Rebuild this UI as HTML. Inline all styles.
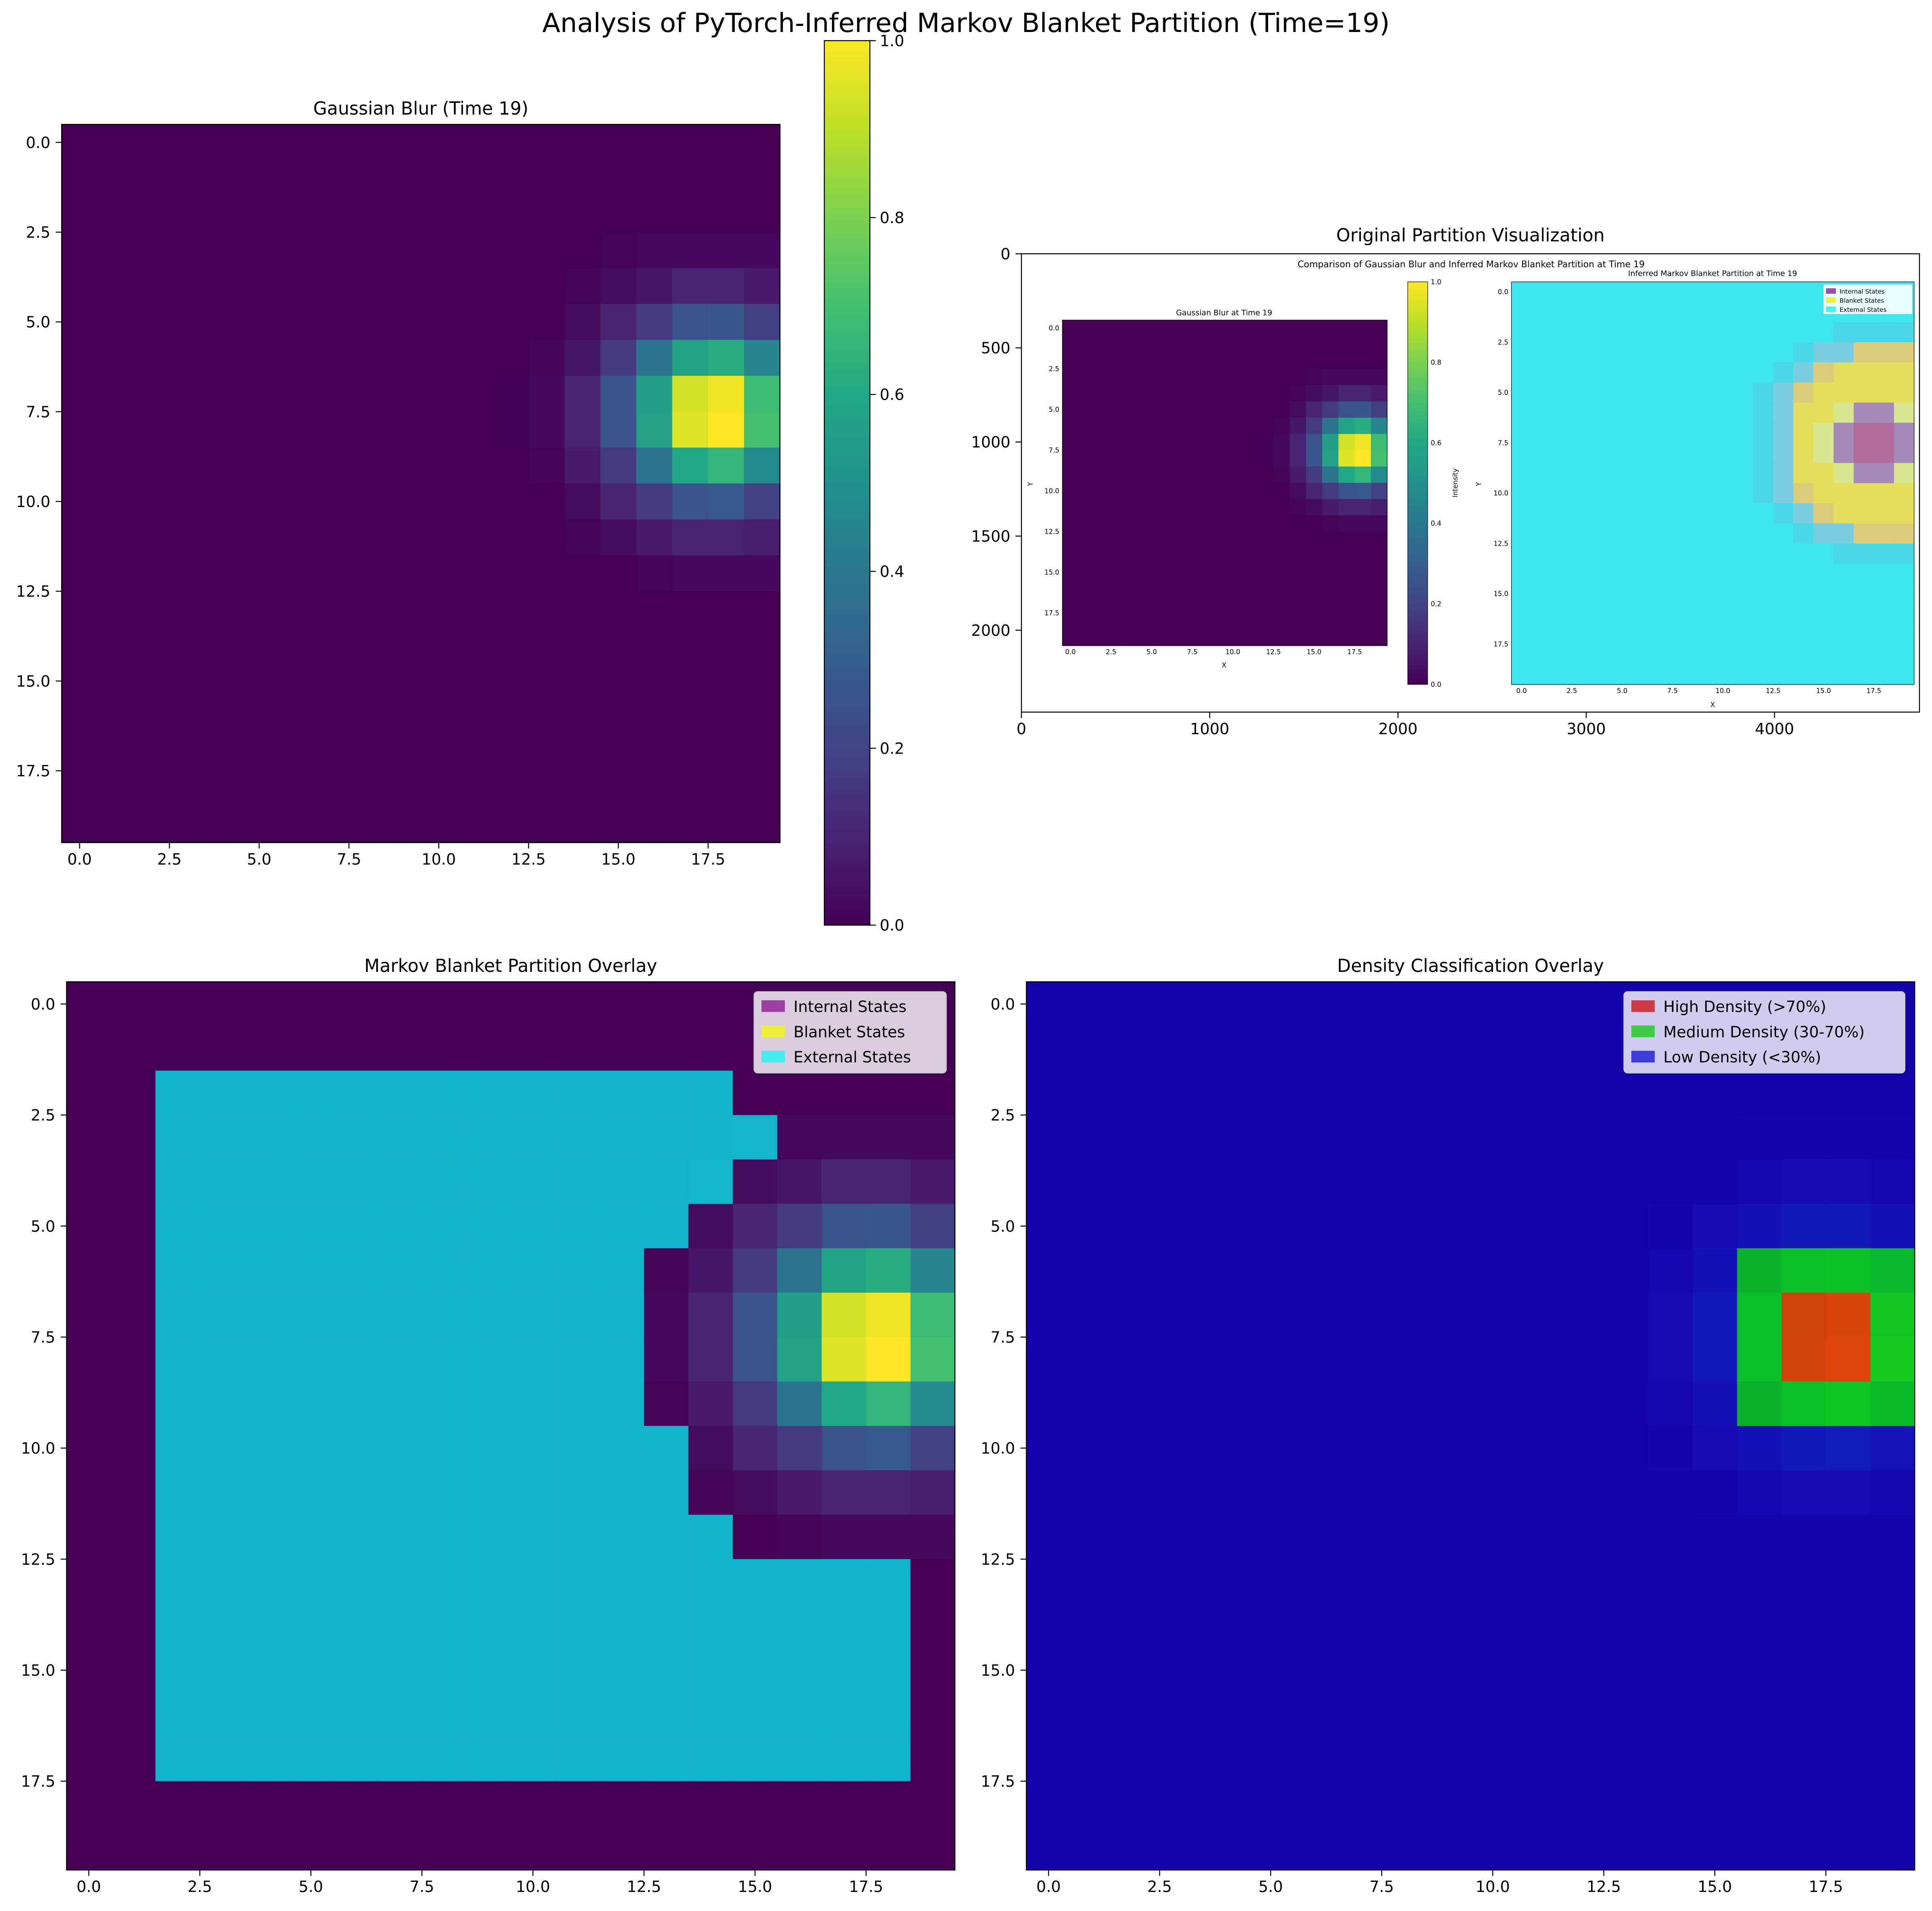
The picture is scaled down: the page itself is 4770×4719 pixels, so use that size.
<!DOCTYPE html>
<html><head><meta charset="utf-8"><style>
html,body{margin:0;padding:0;background:#fff;}
svg{display:block;font-family:"DejaVu Sans","Liberation Sans",sans-serif;}
</style></head><body>
<svg id="fig" xmlns="http://www.w3.org/2000/svg" width="4770" height="4719" viewBox="0 0 1568 1551.3">
<rect x="0" y="0" width="1568" height="1551.3" fill="#fff"/>
<text x="784" y="26" font-size="21.5" text-anchor="middle">Analysis of PyTorch-Inferred Markov Blanket Partition (Time=19)</text>
<g id="g1"></g>
<g id="g2"></g>
<g id="g3"></g>
<g id="g4"></g>
</svg>
<script>
// ---- data ----
const N = 20;
const blurRow3  = [0,0,0,0,0,0,0,0,0,0,0,0,0,0,0,0.01,0.02,0.02,0.02,0.02];
const blurRow4  = [0,0,0,0,0,0,0,0,0,0,0,0,0,0,0.01,0.03,0.06,0.10,0.10,0.07];
const blurRow5  = [0,0,0,0,0,0,0,0,0,0,0,0,0,0,0.03,0.10,0.17,0.26,0.27,0.18];
const blurRow6  = [0,0,0,0,0,0,0,0,0,0,0,0,0,0.01,0.06,0.17,0.38,0.58,0.62,0.45];
const blurRow7  = [0,0,0,0,0,0,0,0,0,0,0,0,0.005,0.02,0.10,0.25,0.56,0.93,0.98,0.68];
const blurRow8  = [0,0,0,0,0,0,0,0,0,0,0,0,0.005,0.02,0.10,0.25,0.57,0.95,1.00,0.70];
const blurRow9  = [0,0,0,0,0,0,0,0,0,0,0,0,0,0.01,0.07,0.17,0.38,0.60,0.65,0.47];
const blurRow10 = [0,0,0,0,0,0,0,0,0,0,0,0,0,0,0.03,0.10,0.17,0.26,0.28,0.19];
const blurRow11 = [0,0,0,0,0,0,0,0,0,0,0,0,0,0,0.01,0.03,0.07,0.10,0.10,0.08];
const blurRow12 = [0,0,0,0,0,0,0,0,0,0,0,0,0,0,0,0,0.01,0.02,0.02,0.02];
const zeroRow   = [0,0,0,0,0,0,0,0,0,0,0,0,0,0,0,0,0,0,0,0];
const blur = [zeroRow,zeroRow,zeroRow,blurRow3,blurRow4,blurRow5,blurRow6,blurRow7,blurRow8,blurRow9,blurRow10,blurRow11,blurRow12,zeroRow,zeroRow,zeroRow,zeroRow,zeroRow,zeroRow,zeroRow];
const extStart = [-1,-1,2,2,2,2,2,2,2,2,2,2,2,2,2,2,2,2,-1,-1];
const extEnd   = [-1,-1,14,15,14,13,12,12,12,12,13,13,14,18,18,18,18,18,-1,-1];
const highThresh = 0.7, medThresh = 0.3;
const insetRows = [
 "eeeeeeeeeeeeeeeeeeee","eeeeeeeeeeeeeeeeeeee","eeeeeeeeeeeeeeeeffff",
 "eeeeeeeeeeeeeefllttt","eeeeeeeeeeeeefltyyyy","eeeeeeeeeeeefltyyyyy",
 "eeeeeeeeeeeeflyypuup","eeeeeeeeeeeeflypukku","eeeeeeeeeeeeflypukku",
 "eeeeeeeeeeeeflyypuup","eeeeeeeeeeeefltyyyyy","eeeeeeeeeeeeefltyyyy",
 "eeeeeeeeeeeeeefllttt","eeeeeeeeeeeeeeeeffff","eeeeeeeeeeeeeeeeeeee",
 "eeeeeeeeeeeeeeeeeeee","eeeeeeeeeeeeeeeeeeee","eeeeeeeeeeeeeeeeeeee",
 "eeeeeeeeeeeeeeeeeeee","eeeeeeeeeeeeeeeeeeee"];
const heatTicks = [0,2.5,5,7.5,10,12.5,15,17.5];
const heatTickLabels = ["0.0","2.5","5.0","7.5","10.0","12.5","15.0","17.5"];
const cbTicks = [0,0.2,0.4,0.6,0.8,1.0];
const cbTickLabels = ["0.0","0.2","0.4","0.6","0.8","1.0"];
const p2xTicks = [0,1000,2000,3000,4000];
const p2yTicks = [0,500,1000,1500,2000];
const legend3Labels = ["Internal States","Blanket States","External States"];
const legend4Labels = ["High Density (>70%)","Medium Density (30-70%)","Low Density (<30%)"];

// ---- helpers ----
const NS="http://www.w3.org/2000/svg";
function mk(tag, attrs, parent){const e=document.createElementNS(NS,tag);for(const k in attrs)e.setAttribute(k,attrs[k]);parent.appendChild(e);return e;}
const VIR=[[68,1,84],[72,36,117],[65,68,135],[53,95,141],[42,120,142],[33,145,140],[34,168,132],[68,191,112],[122,209,81],[189,223,38],[253,231,37]];
function vir(v){v=Math.max(0,Math.min(1,v));const f=v*10,i=Math.min(9,Math.floor(f)),t=f-i;const a=VIR[i],b=VIR[i+1];return [0,1,2].map(k=>a[k]+(b[k]-a[k])*t);}
function rgb(c){return "rgb("+c.map(x=>Math.round(x)).join(",")+")";}
function mix(base,over,a){return base.map((x,k)=>x*(1-a)+over[k]*a);}

function heatAxes(g,x0,y0,cell,fs,tick){
  const w=cell*N;
  mk("rect",{x:x0,y:y0,width:w,height:w,fill:"none",stroke:"#000","stroke-width":0.8},g);
  heatTicks.forEach((v,i)=>{
    const px=x0+(v+0.5)*cell, py=y0+(v+0.5)*cell;
    mk("line",{x1:px,y1:y0+w,x2:px,y2:y0+w+tick,stroke:"#000","stroke-width":0.8},g);
    const tx=mk("text",{x:px,y:y0+w+tick+fs*1.05,"font-size":fs,"text-anchor":"middle"},g);tx.textContent=heatTickLabels[i];
    
    
    mk("line",{x1:x0,y1:py,x2:x0-tick,y2:py,stroke:"#000","stroke-width":0.8},g);
    const ty=mk("text",{x:x0-tick-fs*0.35,y:py+fs*0.36,"font-size":fs,"text-anchor":"end"},g);ty.textContent=heatTickLabels[i];
    
    
  });
}
function cellsFrom(g,x0,y0,cw,ch,colorFn){
  for(let r=0;r<N;r++)for(let c=0;c<N;c++){
    const e=mk("rect",{x:x0+c*cw,y:y0+r*ch,width:cw+0.3,height:ch+0.3,fill:colorFn(r,c)},g);
    
    
  }
}
function title(g,x,y,s,fs){const t=mk("text",{x:x,y:y,"font-size":fs,"text-anchor":"middle"},g);t.textContent=s;return t;}

// ---- panel 1 ----
(function(){
  const g=document.getElementById("g1");
  const x0=50,y0=101,cell=29.15;
  title(g,x0+cell*10,93,"Gaussian Blur (Time 19)",14.5);
  cellsFrom(g,x0,y0,cell,cell,(r,c)=>rgb(vir(blur[r][c])));
  heatAxes(g,x0,y0,cell,12.5,4.8);
  const cx=669,cw=37,cy0=33,cy1=751;
  const defs=mk("defs",{},g);
  const lg=mk("linearGradient",{id:"vg",x1:0,y1:1,x2:0,y2:0},defs);
  for(let i=0;i<=10;i++)mk("stop",{offset:(i*10)+"%","stop-color":rgb(VIR[i])},lg);
  const cb=mk("rect",{x:cx,y:cy0,width:cw,height:cy1-cy0,fill:"url(#vg)",stroke:"#000","stroke-width":0.8},g);
  
  
  cbTicks.forEach((v,i)=>{const py=cy1-v*(cy1-cy0);
    mk("line",{x1:cx+cw,y1:py,x2:cx+cw+4.8,y2:py,stroke:"#000","stroke-width":0.8},g);
    const t=mk("text",{x:cx+cw+8,y:py+4.5,"font-size":12.5},g);t.textContent=cbTickLabels[i];
    
    });
})();

// ---- panel 2 ----
(function(){
  const g=document.getElementById("g2");
  const ax0=829,ay0=206,k=0.1528,W=4770,H=2435;
  const aw=W*k,ah=H*k;
  title(g,ax0+aw/2,196,"Original Partition Visualization",14.5);
  mk("rect",{x:ax0,y:ay0,width:aw,height:ah,fill:"#fff"},g);
  const st=mk("text",{x:1194,y:217,"font-size":7.2,"text-anchor":"middle"},g);st.textContent="Comparison of Gaussian Blur and Inferred Markov Blanket Partition at Time 19";
  
  const gx0=862.2,gy0=259.8,gcw=263.6/N,gch=264.3/N,ifs=5.4;
  const t1=mk("text",{x:993.5,y:256,"font-size":6.2,"text-anchor":"middle"},g);t1.textContent="Gaussian Blur at Time 19";
  
  cellsFrom(g,gx0,gy0,gcw,gch,(r,c)=>rgb(vir(blur[r][c])));
  mk("rect",{x:gx0,y:gy0,width:gcw*N,height:gch*N,fill:"none",stroke:"#000","stroke-width":0.4},g);
  heatTicks.forEach((v,i)=>{
    const px=gx0+(v+0.5)*gcw,py=gy0+(v+0.5)*gch;
    const a=mk("text",{x:px,y:gy0+gch*N+7,"font-size":ifs,"text-anchor":"middle"},g);a.textContent=heatTickLabels[i];
    
    const b=mk("text",{x:gx0-2.5,y:py+1.9,"font-size":ifs,"text-anchor":"end"},g);b.textContent=heatTickLabels[i];
    
  });
  const xl=mk("text",{x:993.5,y:542,"font-size":ifs,"text-anchor":"middle"},g);xl.textContent="X";
  
  const yl=mk("text",{x:838,y:393,"font-size":ifs,"text-anchor":"middle",transform:"rotate(-90 838 393)"},g);yl.textContent="Y";
  
  const cx=1142.5,cw=16.2,cy0=228.8,cy1=555.6;
  const icb=mk("rect",{x:cx,y:cy0,width:cw,height:cy1-cy0,fill:"url(#vg)",stroke:"#000","stroke-width":0.4},g);
  
  cbTicks.forEach((v,i)=>{const py=cy1-v*(cy1-cy0);
    const t=mk("text",{x:cx+cw+2.5,y:py+1.9,"font-size":ifs},g);t.textContent=cbTickLabels[i];
    });
  const il=mk("text",{x:1183,y:392,"font-size":ifs,"text-anchor":"middle",transform:"rotate(-90 1183 392)"},g);il.textContent="Intensity";
  
  const px0=1226.7,py0=228.8,pc=326.8/N;
  const pcol={e:"#3ee6ee",f:"#4ad8e6",l:"#7ccde0",t:"#dccb7a",y:"#e4de5c",p:"#d8e690",u:"#a38ab8",k:"#b06c9a"};
  const t2=mk("text",{x:1390,y:224,"font-size":6.2,"text-anchor":"middle"},g);t2.textContent="Inferred Markov Blanket Partition at Time 19";
  
  cellsFrom(g,px0,py0,pc,pc,(r,c)=>pcol[insetRows[r][c]]);
  mk("rect",{x:px0,y:py0,width:pc*N,height:pc*N,fill:"none",stroke:"#000","stroke-width":0.4},g);
  heatTicks.forEach((v,i)=>{
    const px=px0+(v+0.5)*pc,py=py0+(v+0.5)*pc;
    const a=mk("text",{x:px,y:py0+pc*N+7,"font-size":ifs,"text-anchor":"middle"},g);a.textContent=heatTickLabels[i];
    
    const b=mk("text",{x:px0-2.5,y:py+1.9,"font-size":ifs,"text-anchor":"end"},g);b.textContent=heatTickLabels[i];
    
  });
  const xl2=mk("text",{x:1390,y:574,"font-size":ifs,"text-anchor":"middle"},g);xl2.textContent="X";
  
  const yl2=mk("text",{x:1202,y:393,"font-size":ifs,"text-anchor":"middle",transform:"rotate(-90 1202 393)"},g);yl2.textContent="Y";
  
  const lx=1480,ly=231;
  mk("rect",{x:lx,y:ly,width:72,height:24,fill:"#eaffff",stroke:"#ccc","stroke-width":0.3,rx:1},g);
  const lc=["#9a4fa8","#eef040","#40f4f4"];
  legend3Labels.forEach((s,i)=>{mk("rect",{x:lx+2,y:ly+3+i*7.4,width:8,height:4.5,fill:lc[i]},g);
    const t=mk("text",{x:lx+13,y:ly+7.3+i*7.4,"font-size":5},g);t.textContent=s;
    });
  mk("rect",{x:ax0,y:ay0,width:aw,height:ah,fill:"none",stroke:"#000","stroke-width":0.8},g);
  p2xTicks.forEach(v=>{const px=ax0+v*k;
    mk("line",{x1:px,y1:ay0+ah,x2:px,y2:ay0+ah+4.8,stroke:"#000","stroke-width":0.8},g);
    const t=mk("text",{x:px,y:ay0+ah+18,"font-size":12.5,"text-anchor":"middle"},g);t.textContent=String(v);
    });
  p2yTicks.forEach(v=>{const py=ay0+v*k;
    mk("line",{x1:ax0,y1:py,x2:ax0-4.8,y2:py,stroke:"#000","stroke-width":0.8},g);
    const t=mk("text",{x:ax0-9,y:py+4.5,"font-size":12.5,"text-anchor":"end"},g);t.textContent=String(v);
    });
})();

function legend(g,x,y,w,labels,colors){
  const lg=mk("rect",{x:x,y:y,width:w,height:66,fill:"rgba(255,255,255,0.8)",stroke:"#ccc","stroke-width":0.8,rx:3},g);
  
  labels.forEach((s,i)=>{
    mk("rect",{x:x+6,y:y+7+i*20.5,width:19,height:9.5,fill:colors[i]},g);
    const t=mk("text",{x:x+32,y:y+16.5+i*20.5,"font-size":12.5},g);t.textContent=s;
    
  });
}

// ---- panel 3 ----
(function(){
  const g=document.getElementById("g3");
  const x0=54,y0=797,cell=36.05;
  title(g,x0+cell*10,789,"Markov Blanket Partition Overlay",14.5);
  cellsFrom(g,x0,y0,cell,cell,(r,c)=>{
    const base=vir(blur[r][c]);
    const ext=extStart[r]>=0&&c>=extStart[r]&&c<=extEnd[r];
    return rgb(ext?mix(base,[0,255,255],0.7):base);
  });
  heatAxes(g,x0,y0,cell,12.5,4.8);
  legend(g,612,805,156,legend3Labels,["#a040a4","#eeee38","#44eef0"]);
})();

// ---- panel 4 ----
(function(){
  const g=document.getElementById("g4");
  const x0=833,y0=797,cell=36.05;
  title(g,x0+cell*10,789,"Density Classification Overlay",14.5);
  cellsFrom(g,x0,y0,cell,cell,(r,c)=>{
    const v=blur[r][c];
    const over=v>highThresh?[205,0,0]:(v>=medThresh?[0,205,0]:[0,0,205]);
    return rgb(mix(vir(v),over,0.7));
  });
  heatAxes(g,x0,y0,cell,12.5,4.8);
  legend(g,1318,805,228,legend4Labels,["#cc3c48","#3ccc48","#3c3cd8"]);
})();
</script>
</body></html>
